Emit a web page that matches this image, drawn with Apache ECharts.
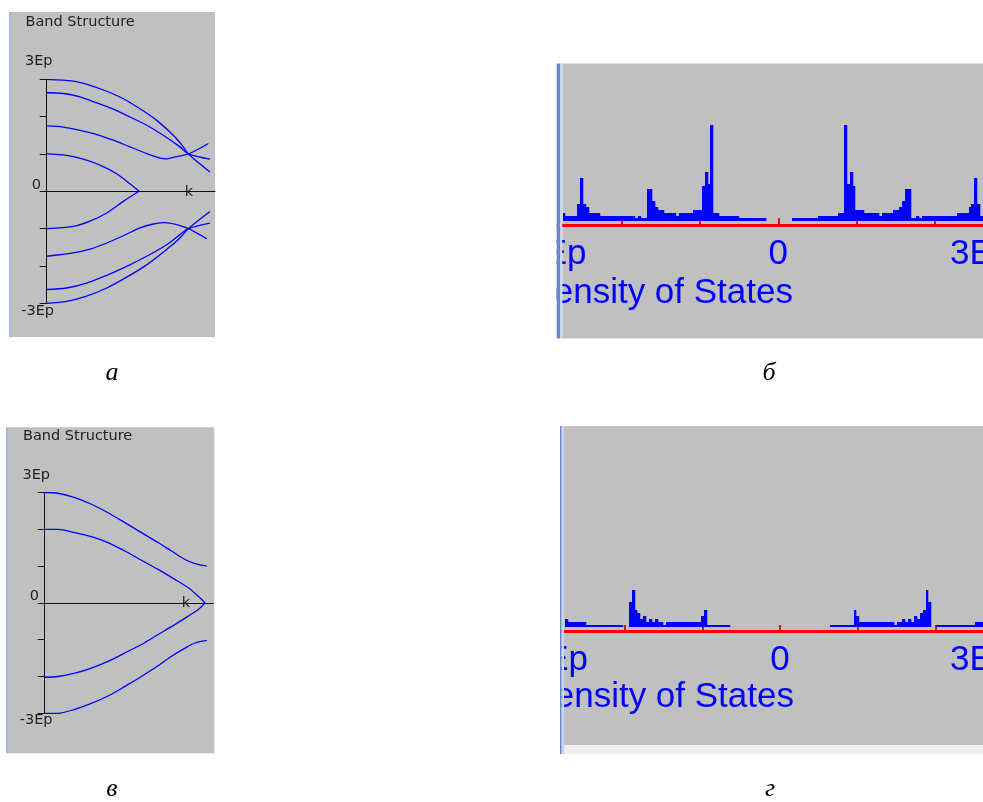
<!DOCTYPE html>
<html><head><meta charset="utf-8">
<script src="https://cdn.jsdelivr.net/npm/echarts@6/dist/echarts.min.js"></script>
<style>html,body{margin:0;padding:0;background:#fff}#c{width:983px;height:802px}</style>
</head><body><div id="c"></div>
<script>
// ---------- Panel а: band structure (k normalised, E in Ep) ----------
const bandA1 = [[0,3.0],[0.164,2.95],[0.267,2.84],[0.370,2.68],[0.472,2.48],[0.575,2.21],[0.678,1.90],[0.780,1.50],[0.842,1.19],[0.873,1.0],[1.006,0.52]];
const bandA2 = [[0,2.64],[0.103,2.62],[0.205,2.53],[0.308,2.37],[0.410,2.20],[0.513,1.99],[0.616,1.77],[0.718,1.50],[0.821,1.19],[0.873,1.0],[1.006,0.86]];
const bandA3 = [[0,1.75],[0.103,1.72],[0.205,1.63],[0.308,1.52],[0.410,1.37],[0.513,1.19],[0.616,1.01],[0.698,0.89],[0.739,0.87],[0.780,0.91],[0.873,1.0],[0.996,1.28]];
const bandA4 = [[0,1.0],[0.123,0.96],[0.226,0.86],[0.328,0.70],[0.431,0.47],[0.513,0.20],[0.569,0.0]];
const bandA5 = [[0,-1.0],[0.164,-0.94],[0.267,-0.80],[0.370,-0.58],[0.472,-0.27],[0.569,0.0]];
const bandA6 = [[0,-1.74],[0.164,-1.65],[0.267,-1.55],[0.370,-1.385],[0.472,-1.19],[0.575,-0.98],[0.657,-0.876],[0.729,-0.84],[0.801,-0.894],[0.873,-1.0],[0.986,-1.27]];
const bandA7 = [[0,-2.63],[0.123,-2.59],[0.246,-2.46],[0.370,-2.25],[0.493,-2.01],[0.616,-1.74],[0.739,-1.43],[0.821,-1.16],[0.873,-1.0],[1.006,-0.85]];
const bandA8 = [[0,-3.0],[0.123,-2.95],[0.246,-2.81],[0.370,-2.59],[0.493,-2.30],[0.616,-1.97],[0.739,-1.56],[0.821,-1.25],[0.873,-1.0],[1.006,-0.54]];

// ---------- Panel в: band structure ----------
const bandV1 = [[0,3.0],[0.082,2.98],[0.186,2.86],[0.288,2.68],[0.391,2.45],[0.495,2.18],[0.597,1.91],[0.70,1.64],[0.783,1.41],[0.866,1.18],[0.928,1.07],[1.0,1.0]];
const bandV2 = [[0,2.0],[0.082,2.0],[0.186,1.91],[0.288,1.80],[0.391,1.64],[0.495,1.41],[0.597,1.16],[0.70,0.91],[0.803,0.64],[0.886,0.41],[0.948,0.18],[0.99,0]];
const bandV3 = [[0,-2.02],[0.082,-2.0],[0.186,-1.91],[0.288,-1.77],[0.391,-1.59],[0.495,-1.36],[0.597,-1.13],[0.70,-0.86],[0.803,-0.59],[0.886,-0.36],[0.948,-0.18],[0.99,0]];
const bandV4 = [[0,-3.0],[0.082,-3.0],[0.186,-2.89],[0.288,-2.73],[0.391,-2.53],[0.495,-2.27],[0.597,-2.0],[0.70,-1.71],[0.783,-1.45],[0.866,-1.23],[0.928,-1.09],[1.0,-1.02]];

// ---------- Panel б: density of states (bin edges in Ep, heights arb. units) ----------
const dosB_E = [-2.75,-2.724,-2.571,-2.533,-2.494,-2.456,-2.418,-2.277,-1.830,-1.792,-1.754,-1.677,-1.613,-1.575,-1.536,-1.460,-1.307,-1.268,-1.089,-0.974,-0.936,-0.898,-0.872,-0.834,-0.757,-0.502,-0.157,0.175,0.507,0.762,0.839,0.877,0.916,0.954,0.980,1.095,1.286,1.324,1.465,1.542,1.580,1.618,1.695,1.759,1.797,1.835,2.282,2.436,2.461,2.499,2.538,2.576,2.65];
const dosB_H = [7.7,4.7,16.7,42.7,16.7,13.7,7.7,4.7,2.7,4.7,2.7,31.7,19.7,13.7,10.7,7.7,4.7,7.7,10.7,34.7,48.7,36.7,95.7,7.7,4.7,2.7,0,2.7,4.7,7.7,95.7,36.7,48.7,34.7,10.7,7.7,4.7,7.7,10.7,13.7,19.7,31.7,2.7,4.7,2.7,4.7,7.7,13.7,16.7,42.7,16.7,4.7];

// ---------- Panel г: density of states ----------
const dosG_E = [-2.765,-2.727,-2.495,-2.019,-1.942,-1.904,-1.865,-1.839,-1.801,-1.762,-1.723,-1.685,-1.646,-1.608,-1.569,-1.505,-1.466,-1.016,-0.977,-0.939,-0.643,0.643,0.952,0.977,1.016,1.466,1.505,1.569,1.608,1.646,1.685,1.723,1.762,1.801,1.839,1.878,1.904,1.942,2.006,2.508,2.65];
const dosG_H = [7.7,4.7,1.7,0,24.7,36.7,16.7,13.7,7.7,10.7,4.7,7.7,4.7,7.7,4.7,1.7,4.7,10.7,16.7,1.7,0,1.7,16.7,10.7,4.7,1.7,4.7,7.7,4.7,7.7,4.7,10.7,7.7,13.7,16.7,36.7,24.7,0,1.7,4.7];

// ---------- texts ----------
const bandTickLabels = ['3Ep','0','-3Ep'];
const dosTickLabels = ['-3Ep','0','3Ep'];
const panelTitle = 'Band Structure';
const kLabel = 'k';
const dosTitle = 'Density of States';
const panelLetters = ['а','б','в','г'];

function binData(E,H){const d=[];for(let i=0;i<H.length;i++){if(H[i]>0)d.push([E[i],E[i+1],H[i]]);}return d;}

const BLUE='#0000ff', RED='#ff0000', GRAY='#c0c0c0', AX='#111111';
const bandFont='DejaVu Sans', dosFont='Liberation Sans';
const BF=14.5;

function bandX(gi,max){return {gridIndex:gi,type:'value',min:0,max:max,axisLine:{show:true,onZero:true,lineStyle:{color:AX,width:1}},axisTick:{show:false},axisLabel:{show:false},splitLine:{show:false}};}
function bandY(gi){return {gridIndex:gi,type:'value',min:-3,max:3,interval:1,axisLine:{show:true,onZero:true,lineStyle:{color:AX,width:1}},axisTick:{show:true,inside:false,length:7,lineStyle:{color:AX,width:1}},axisLabel:{show:false},splitLine:{show:false}};}
function dosX(gi,off,tl){return {gridIndex:gi,type:'value',min:-3,max:3,interval:1,position:'bottom',offset:off,axisLine:{show:true,onZero:false,lineStyle:{color:RED,width:3}},axisTick:{show:true,inside:true,length:tl,lineStyle:{color:RED,width:2}},axisLabel:{show:false},splitLine:{show:false}};}
function dosY(gi){return {gridIndex:gi,type:'value',min:0,max:100,show:false,splitLine:{show:false}};}

function histRender(params,api){
  const a=api.coord([api.value(0),api.value(2)]);
  const b=api.coord([api.value(1),0]);
  const x0=Math.round(a[0]), x1=Math.round(b[0]), y0=Math.round(a[1]), y1=Math.round(b[1]);
  return {type:'rect',shape:{x:x0,y:y0,width:Math.max(1,x1-x0)+0.3,height:y1-y0},style:{fill:BLUE}};
}

const series=[];
[bandA1,bandA2,bandA3,bandA4,bandA5,bandA6,bandA7,bandA8].forEach(d=>series.push({type:'line',xAxisIndex:0,yAxisIndex:0,data:d,smooth:0.3,symbol:'none',lineStyle:{color:BLUE,width:1.3},silent:true}));
[bandV1,bandV2,bandV3,bandV4].forEach(d=>series.push({type:'line',xAxisIndex:1,yAxisIndex:1,data:d,smooth:0.3,symbol:'none',lineStyle:{color:BLUE,width:1.3},silent:true}));
series.push({type:'custom',xAxisIndex:2,yAxisIndex:2,data:binData(dosB_E,dosB_H),encode:{x:[0,1],y:2},renderItem:histRender,silent:true});
series.push({type:'custom',xAxisIndex:3,yAxisIndex:3,data:binData(dosG_E,dosG_H),encode:{x:[0,1],y:2},renderItem:histRender,silent:true});

function txt(t,x,y,align,size,family,color,z,style){return {type:'text',x:x,y:y,z:z||10,silent:true,style:{text:t,fontSize:size,fontFamily:family,fontStyle:style||'normal',fill:color,textAlign:align,align:align,textVerticalAlign:'middle',verticalAlign:'middle'}};}
function rect(x,y,w,h,fill,z){return {type:'rect',z:z,silent:true,shape:{x:x,y:y,width:w,height:h},style:{fill:fill}};}

const graphics=[
  // backgrounds
  rect(11,12,204,325,GRAY,-5), rect(9,12,2,325,'#a6b9de',-5),
  rect(8,427.3,206.3,326,GRAY,-5), rect(6,427.3,2,326,'#a6b9de',-5),
  rect(562.3,63.5,421,275,GRAY,-5),
  rect(564,426,419,319,GRAY,-5), rect(564,745,419,9,'#eeeeee',-5),
  // band panel texts
  txt(panelTitle,25.5,22.7,'left',BF,bandFont,'#222'),
  txt(bandTickLabels[0],52.5,61.7,'right',BF,bandFont,'#222'),
  txt(bandTickLabels[1],41,185.3,'right',BF,bandFont,'#222'),
  txt(bandTickLabels[2],54,311,'right',BF,bandFont,'#222'),
  txt(kLabel,189,192.3,'center',BF,bandFont,'#222'),
  txt(panelTitle,23,436.7,'left',BF,bandFont,'#222'),
  txt(bandTickLabels[0],50,475.3,'right',BF,bandFont,'#222'),
  txt(bandTickLabels[1],39,596.7,'right',BF,bandFont,'#222'),
  txt(bandTickLabels[2],52.5,720,'right',BF,bandFont,'#222'),
  txt(kLabel,186,603,'center',BF,bandFont,'#222'),
  // DOS texts
  txt(dosTickLabels[0],586.5,254.5,'right',35,dosFont,BLUE),
  txt(dosTickLabels[1],778.3,254.5,'center',35,dosFont,BLUE),
  txt(dosTickLabels[2],950,254.5,'left',35,dosFont,BLUE),
  txt(dosTitle,793,293,'right',35,dosFont,BLUE),
  txt(dosTickLabels[0],588,660.8,'right',35,dosFont,BLUE),
  txt(dosTickLabels[1],780,660.8,'center',35,dosFont,BLUE),
  txt(dosTickLabels[2],950,660.8,'left',35,dosFont,BLUE),
  txt(dosTitle,794,697.5,'right',35,dosFont,BLUE),
  // covers + borders of DOS panels
  rect(480,50,76.7,300,'#ffffff',50),
  rect(556.7,63.5,3.3,275,'#6b86c6',51), rect(560,63.5,2.3,275,'#c6d6ef',51),
  rect(480,415,80,345,'#ffffff',50),
  rect(560,426,1.7,328,'#6b86c6',51), rect(561.7,426,2.3,328,'#c6d6ef',51),
  // panel letters
  txt(panelLetters[0],112,373.5,'center',26,'Liberation Serif','#000',60,'italic'),
  txt(panelLetters[1],769,373.5,'center',26,'Liberation Serif','#000',60,'italic'),
  txt(panelLetters[2],112,789,'center',26,'Liberation Serif','#000',60,'italic'),
  txt(panelLetters[3],770,789,'center',26,'Liberation Serif','#000',60,'italic')
];

const chart=echarts.init(document.getElementById('c'),null,{renderer:'canvas'});
chart.setOption({
  animation:false,
  backgroundColor:'#ffffff',
  textStyle:{fontFamily:bandFont},
  grid:[
    {left:46.7,top:79.3,width:168.3,height:224,containLabel:false,outerBoundsMode:'none',show:false},
    {left:44.7,top:492.5,width:168.5,height:220.8,containLabel:false,outerBoundsMode:'none',show:false},
    {left:543.3,top:120.7,width:470,height:100,containLabel:false,outerBoundsMode:'none',show:false},
    {left:546.75,top:526.7,width:466.5,height:100,containLabel:false,outerBoundsMode:'none',show:false}
  ],
  xAxis:[bandX(0,1.037),bandX(1,1.04),dosX(2,4.6,7),dosX(3,4.3,6)],
  yAxis:[bandY(0),bandY(1),dosY(2),dosY(3)],
  series:series,
  graphic:{elements:graphics}
});
</script></body></html>
